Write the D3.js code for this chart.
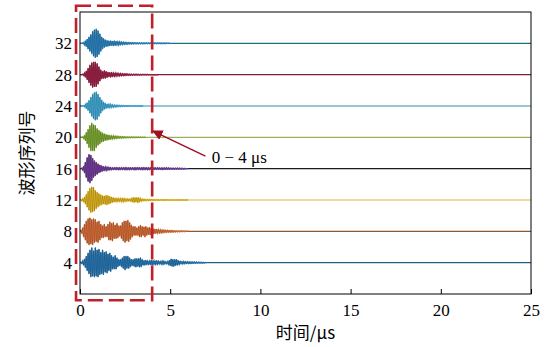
<!DOCTYPE html>
<html>
<head>
<meta charset="utf-8">
<script src="https://cdn.jsdelivr.net/npm/d3@7"></script>
<style>
  body { margin: 0; background: #fff; }
  svg text { font-family: "Liberation Serif", "DejaVu Serif", serif; }
  .cjk { font-family: "Noto Sans CJK SC", sans-serif; }
</style>
</head>
<body>
<div id="chart"></div>
<script>
// waveform samples, one every 0.05 μs starting at 0 μs (amplitude in index units)
const sampleStep = 0.05;
const offsets = [32, 28, 24, 20, 16, 12, 8, 4];
const waveColors = ["#2e8bcf", "#a8234a", "#45b5e5", "#86b537", "#7b3fa8", "#f0c020", "#e8743a", "#2a7fc0"];
const baseColors = ["#1e6f82", "#7a1f3a", "#2a90b2", "#9fae62", "#1a1a1a", "#d9b840", "#8a5a30", "#245f8a"];

const wave32 = [
  0, 0, 0, 0, .1, -.2, .3, -.4, .5, -.7, .8, -1.0, 1.1, -1.3, 1.5, -1.6, 1.7, -1.8, 1.8, -1.7,
  1.6, -1.4, 1.2, -1.0, .8, -.7, .6, -.5, .45, -.4, .35, -.35, .3, -.3, .3, -.25, .25, -.3, .3, -.25,
  .25, -.2, .2, -.2, .2, -.15, .15, -.15, .15, -.12, .12, -.1, .1, -.1, .1, -.08, .08, -.08, .08, -.07,
  .07, -.06, .06, -.06, .06, -.05, .05, -.05, .05, -.05, .05, -.05, .05, -.04, .04, -.04, .04, -.04, .04, -.04,
  .04, -.04, .04, -.03, .03, -.03, .03, -.03, .03, -.03, .03, -.03, .03, -.03, .03, -.03, .03, -.02, .02, -.02, 0];
const wave28 = [
  0, 0, 0, .05, -.1, .2, -.3, .45, -.6, .8, -1.0, 1.2, -1.35, 1.5, -1.6, 1.6, -1.5, 1.6, -1.5, 1.4,
  -1.2, 1.0, -.8, .6, -.5, .4, -.45, .5, -.45, .4, -.35, .3, -.25, .25, -.3, .3, -.25, .2, -.2, .2,
  -.18, .18, -.15, .15, -.15, .15, -.12, .12, -.12, .1, -.1, .1, -.08, .08, -.08, .07, -.07, .06, -.06, .06,
  -.05, .05, -.05, .05, -.05, .04, -.04, .04, -.04, .04, -.03, .03, -.03, .03, -.03, .03, -.02, .02, -.02, .02,
  -.02, .02, -.02, .01, -.01, .01, -.01, 0];
const wave24 = [
  0, 0, 0, 0, .05, -.1, .2, -.3, .4, -.55, .7, -.9, 1.1, -1.3, 1.5, -1.6, 1.7, -1.8, 1.8, -1.7,
  1.5, -1.3, 1.1, -.9, .75, -.6, .5, -.4, .35, -.3, .25, -.25, .2, -.2, .2, -.18, .15, -.15, .12, -.12,
  .1, -.1, .1, -.08, .08, -.07, .07, -.06, .06, -.05, .05, -.05, .04, -.04, .04, -.04, .03, -.03, .03, -.03,
  .03, -.02, .02, -.02, .02, -.02, .02, -.01, .01, -.01, 0];
const wave20 = [
  0, 0, 0, .05, -.15, .25, -.4, .6, -.8, 1.0, -1.3, 1.5, -1.7, 1.8, -1.7, 1.6, -1.7, 1.5, -1.3, 1.1,
  -1.0, .9, -.8, .7, -.6, .55, -.5, .45, -.4, .35, -.35, .3, -.3, .25, -.25, .2, -.2, .2, -.18, .15,
  -.15, .15, -.12, .12, -.1, .1, -.1, .08, -.08, .08, -.07, .06, -.06, .06, -.05, .05, -.05, .04, -.04, .04,
  -.04, .03, -.03, .03, -.03, .03, -.02, .02, -.02, .02, -.02, .01, -.01, 0];
const wave16 = [
  0, 0, .05, -.15, .3, -.5, .8, -1.1, 1.4, -1.6, 1.8, -1.8, 1.7, -1.5, 1.3, -1.1, 1.0, -.9, .8, -.7,
  .6, -.5, .45, -.4, .35, -.3, .25, -.25, .2, -.2, .18, -.15, .15, -.12, .12, -.12, .1, -.1, .1, -.1,
  .12, -.1, .1, -.12, .1, -.1, .12, -.1, .1, -.1, .12, -.12, .1, -.1, .1, -.12, .1, -.1, .1, -.1,
  .1, -.12, .1, -.1, .12, -.1, .1, -.1, .1, -.12, .12, -.1, .1, -.1, .1, -.12, .1, -.1, .1, -.1,
  .08, -.08, .1, -.08, .08, -.08, .1, -.08, .08, -.08, .08, -.1, .08, -.08, .08, -.08, .1, -.08, .08, -.08,
  .06, -.06, .06, -.07, .06, -.06, .06, -.06, .07, -.06, .05, -.05, .05, -.05, .04, -.04, .03, -.03, .02, -.01, 0];
const wave12 = [
  0, .05, -.1, .15, -.25, .35, -.5, .7, -.9, 1.1, -1.3, 1.5, -1.6, 1.65, -1.5, 1.6, -1.4, 1.2, -1.1, 1.0,
  -.9, .8, -.7, .65, -.6, .55, -.5, .5, -.55, .6, -.6, .55, -.5, .45, -.4, .35, -.3, .3, -.25, .25,
  -.2, .2, -.2, .2, -.18, .2, -.22, .25, -.22, .2, -.18, .15, -.15, .15, -.12, .12, -.15, .2, -.25, .3,
  -.3, .3, -.25, .3, -.35, .3, -.25, .2, -.15, .12, -.1, .1, -.1, .08, -.08, .08, -.08, .07, -.07, .07,
  -.06, .06, -.06, .06, -.05, .05, -.05, .05, -.05, .05, -.04, .04, -.04, .04, -.04, .04, -.04, .03, -.03, .03,
  -.03, .03, -.03, .03, -.03, .03, -.02, .02, -.02, .02, -.02, .02, -.02, .02, -.01, .01, -.01, .01, -.01, .01, 0];
const wave8 = [
  0, .1, -.25, .45, -.7, .9, -1.1, 1.3, -1.5, 1.6, -1.7, 1.7, -1.6, 1.5, -1.7, 1.6, -1.4, 1.5, -1.3, 1.2,
  -1.4, 1.3, -1.1, .9, -.8, .7, -.8, .9, -.7, .6, -.7, .9, -1.1, 1.2, -1.1, 1.0, -1.2, 1.1, -.9, .8,
  -.9, 1.0, -.8, .7, -.6, .7, -.9, 1.1, -1.2, 1.3, -1.4, 1.3, -1.2, 1.4, -1.3, 1.1, -1.0, .8, -.7, .6,
  -.5, .6, -.5, .45, -.5, .6, -.7, .75, -.7, .6, -.5, .55, -.7, .6, -.5, .45, -.4, .5, -.45, .4,
  -.35, .3, -.3, .28, -.25, .25, -.22, .2, -.2, .18, -.18, .16, -.15, .15, -.14, .12, -.12, .12, -.1, .1,
  -.1, .09, -.09, .08, -.08, .07, -.07, .06, -.06, .05, -.05, .05, -.04, .04, -.04, .03, -.03, .03, -.02, .02, 0];
const wave4 = [
  0, .05, -.1, .2, -.3, .45, -.6, .8, -1.0, 1.2, -1.4, 1.6, -1.8, 1.9, -1.7, 1.5, -1.8, 1.9, -1.7, 1.6,
  -1.8, 1.7, -1.5, 1.3, -1.4, 1.6, -1.5, 1.3, -1.2, 1.4, -1.3, 1.1, -1.0, 1.2, -1.1, .9, -.8, .7, -.8, .9,
  -.8, .6, -.5, .4, -.35, .4, -.5, .6, -.7, .8, -.9, .8, -.7, .8, -.7, .6, -.5, .4, -.35, .4,
  -.45, .5, -.55, .5, -.45, .5, -.55, .6, -.5, .4, -.3, .25, -.3, .3, -.25, .2, -.2, .2, -.25, .3,
  -.3, .25, -.2, .2, -.22, .25, -.2, .18, -.15, .15, -.18, .2, -.2, .18, -.15, .12, -.12, .15, -.2, .25,
  -.35, .45, -.45, .4, -.45, .4, -.35, .4, -.3, .25, -.2, .15, -.12, .12, -.15, .15, -.12, .12, -.1, .1,
  -.1, .1, -.1, .09, -.09, .08, -.08, .08, -.07, .07, -.06, .06, -.05, .05, -.05, .04, -.04, .03, -.02, .02, 0];
const waves = [wave32, wave28, wave24, wave20, wave16, wave12, wave8, wave4];

const xTicks = [0, 5, 10, 15, 20, 25];
const yTicks = [4, 8, 12, 16, 20, 24, 28, 32];
const xLabel = "时间/μs";
const yLabel = "波形序列号";
const boxRange = [0, 4];
const boxLabel = "0 \u2212 4  μs";

const width = 549, height = 347;
const margin = {top: 12, right: 18, bottom: 53, left: 80};
const iw = width - margin.left - margin.right;
const ih = height - margin.top - margin.bottom;

const x = d3.scaleLinear().domain([0, 25]).range([0, iw]);
const y = d3.scaleLinear().domain([0, 36]).range([ih, 0]);

const svg = d3.select("#chart").append("svg")
  .attr("width", width)
  .attr("height", height);
const g = svg.append("g")
  .attr("transform", "translate(" + margin.left + "," + margin.top + ")");

const line = d3.line()
  .x(d => x(d[0]))
  .y(d => y(d[1]));

waves.forEach((w, i) => {
  const pts = w.map((v, k) => [k * sampleStep, offsets[i] + v]);
  const burst = pts.slice();
  pts.push([x.domain()[1], offsets[i]]);
  g.append("path")
    .datum(pts)
    .attr("fill", "none")
    .attr("stroke", baseColors[i])
    .attr("stroke-width", 1.1)
    .attr("d", line);
  g.append("path")
    .datum(burst)
    .attr("fill", "none")
    .attr("stroke", waveColors[i])
    .attr("stroke-width", 1.3)
    .attr("stroke-linejoin", "round")
    .attr("d", line);
  // thin dark trace on top, like the original plot
  g.append("path")
    .datum(burst)
    .attr("fill", "none")
    .attr("stroke", "#111")
    .attr("stroke-opacity", 0.42)
    .attr("stroke-width", 0.45)
    .attr("d", line);
});

// frame
g.append("rect")
  .attr("width", iw).attr("height", ih)
  .attr("fill", "none").attr("stroke", "#000").attr("stroke-width", 1);

// x axis, ticks pointing inward
const xAxis = g.append("g")
  .attr("transform", "translate(0," + ih + ")")
  .call(d3.axisBottom(x).tickValues(xTicks).tickSizeInner(-5).tickSizeOuter(0).tickPadding(10));
xAxis.select(".domain").remove();
xAxis.selectAll("text").attr("font-size", 17).attr("fill", "#000");

const yAxis = g.append("g")
  .call(d3.axisLeft(y).tickValues(yTicks).tickSize(0).tickPadding(8));
yAxis.select(".domain").remove();
yAxis.selectAll("text").attr("font-size", 17).attr("fill", "#000");

// axis titles
svg.append("text")
  .attr("class", "cjk")
  .attr("x", margin.left + x(12.5))
  .attr("y", 339)
  .attr("text-anchor", "middle")
  .attr("font-size", 17)
  .text(xLabel);

svg.append("text")
  .attr("class", "cjk")
  .attr("transform", "translate(33," + (margin.top + y(18)) + ") rotate(-90)")
  .attr("text-anchor", "middle")
  .attr("font-size", 17)
  .text(yLabel);

// dashed selection box 0-4 μs
g.append("rect")
  .attr("x", x(-0.22))
  .attr("y", y(36.8))
  .attr("width", x(boxRange[1]) - x(-0.22))
  .attr("height", y(-0.8) - y(36.8))
  .attr("fill", "none")
  .attr("stroke", "#c0202a")
  .attr("stroke-width", 2.6)
  .attr("stroke-dasharray", "15,6");

// annotation arrow
svg.append("defs").append("marker")
  .attr("id", "ah")
  .attr("viewBox", "0 0 10 10")
  .attr("refX", 9).attr("refY", 5)
  .attr("markerWidth", 7).attr("markerHeight", 7)
  .attr("orient", "auto")
  .append("path")
  .attr("d", "M0,0 L10,5 L0,10 z")
  .attr("fill", "#a01020");

g.append("line")
  .attr("x1", x(6.95)).attr("y1", y(17.6))
  .attr("x2", x(4.05)).attr("y2", y(20.8))
  .attr("stroke", "#a01020")
  .attr("stroke-width", 1.5)
  .attr("marker-end", "url(#ah)");

g.append("text")
  .attr("x", x(7.3))
  .attr("y", y(16.7))
  .attr("font-size", 17)
  .attr("fill", "#000")
  .text(boxLabel);
</script>
</body>
</html>
